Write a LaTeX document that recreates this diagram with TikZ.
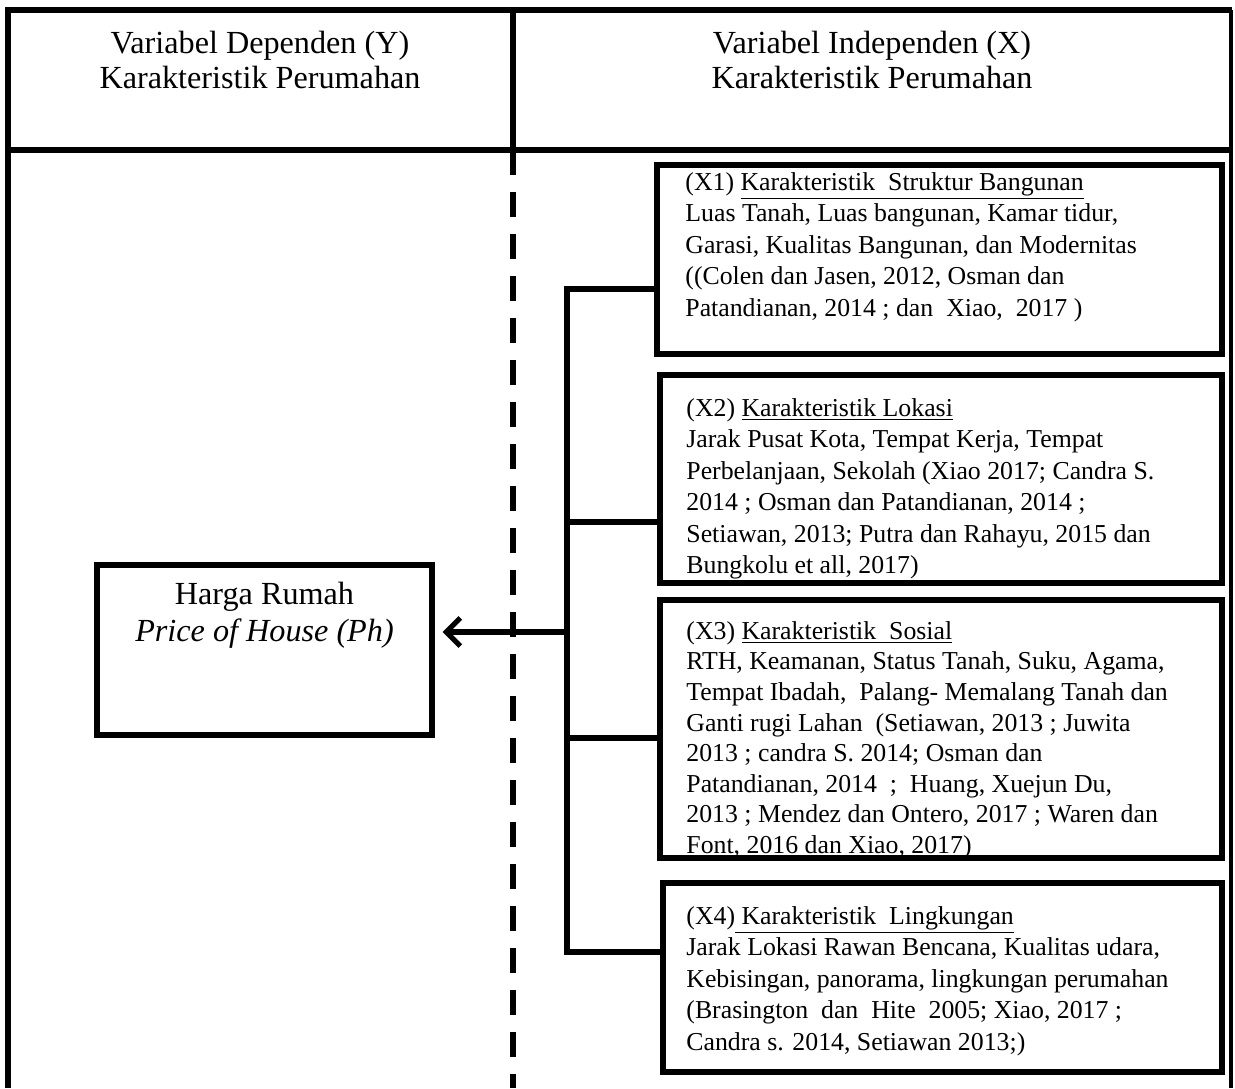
\documentclass[tikz,border=0pt]{standalone}
\usepackage{fontspec}
\setmainfont{Liberation Serif}
\usetikzlibrary{arrows.meta}

\begin{document}
\begin{tikzpicture}[
    x                = 0.5pt,
    y                = -0.5pt,
    garis/.style     = {line width=2.6pt},
    kotak/.style     = {draw, line width=3pt, inner sep=0pt},
    isi/.style       = {anchor=north west, inner sep=0pt, align=left, font=\fontsize{12.9pt}{15.75pt}\selectfont},
    judul/.style     = {anchor=north, inner sep=0pt, align=center, font=\fontsize{16.1pt}{17.5pt}\selectfont},
    cabang/.style    = {line width=3pt},
    panah/.style     = {line width=2.6pt, -{Straight Barb[length=7pt,width=14pt]}}
  ]
\useasboundingbox (0,0) rectangle (1235,1088);
\draw[garis] (8,1088) -- (8,10) -- (1232,10);
\draw[garis, line width=1.8pt] (1231,10) -- (1231,1088);
\draw[garis] (8,150) -- (1232,150);
\draw[garis] (513,10) -- (513,150);
\draw[garis, dash pattern=on 12.5pt off 8.5pt] (513,150) -- (513,1088);
\node[judul] (hy) at (260,31) {Variabel Dependen (Y)\\Karakteristik Perumahan};
\node[judul] (hx) at (872,31) {Variabel Independen (X)\\Karakteristik Perumahan};
\node[kotak, line width=2.6pt, minimum width=167.5pt, minimum height=85pt] (ph) at (264.5,650) {};
\node[judul, font=\fontsize{16.1pt}{18.5pt}\selectfont] (pht) at (264.5,582) {Harga Rumah\\\textit{Price of House (Ph)}};
\node[kotak, minimum width=282.5pt, minimum height=94.5pt] (x1) at (939.5,259.5) {};
\node[kotak, minimum width=281pt, minimum height=104pt] (x2) at (941,479) {};
\node[kotak, minimum width=281pt, minimum height=129pt] (x3) at (941,729) {};
\node[kotak, minimum width=279.5pt, minimum height=94.5pt] (x4) at (942.5,977.5) {};
\node[isi] (t1) at (685,172) {(X1) \underline{Karakteristik\ \ Struktur Bangunan}\\Luas Tanah, Luas bangunan, Kamar tidur,\\Garasi, Kualitas Bangunan, dan Modernitas\\((Colen dan Jasen, 2012, Osman dan\\Patandianan, 2014 ; dan\ \ Xiao,\ \ 2017 )};
\node[isi] (t2) at (686,398) {(X2) \underline{Karakteristik Lokasi}\\Jarak Pusat Kota, Tempat Kerja, Tempat\\Perbelanjaan, Sekolah (Xiao 2017; Candra S.\\2014 ; Osman dan Patandianan, 2014 ;\\Setiawan, 2013; Putra dan Rahayu, 2015 dan\\Bungkolu et all, 2017)};
\begin{scope}
\clip (x3.north west) rectangle (x3.south east);
\node[isi, font=\fontsize{12.9pt}{15.3pt}\selectfont] (t3) at (686,621) {(X3) \underline{Karakteristik\ \ Sosial}\\RTH, Keamanan, Status Tanah, Suku, Agama,\\Tempat Ibadah,\ \ Palang- Memalang Tanah dan\\Ganti rugi Lahan\ \ (Setiawan, 2013 ; Juwita\\2013 ; candra S. 2014; Osman dan\\Patandianan, 2014\ \ ;\ \ Huang, Xuejun Du,\\2013 ; Mendez dan Ontero, 2017 ; Waren dan\\Font, 2016 dan Xiao, 2017)};
\end{scope}
\node[isi] (t4) at (686,906) {(X4)\underline{\ Karakteristik\ \ Lingkungan}\\Jarak Lokasi Rawan Bencana, Kualitas udara,\\Kebisingan, panorama, lingkungan perumahan\\(Brasington\ \ dan\ \ Hite\ \ 2005; Xiao, 2017 ;\\Candra s. 2014, Setiawan 2013;)};
\coordinate (c1) at (567,289);
\coordinate (c2) at (567,522);
\coordinate (c3) at (567,738);
\coordinate (c4) at (567,952);
\coordinate (cp) at (567,632);
\draw[cabang] (c1 -| x1.west) -- (c1) -- (c4) -- (c4 -| x4.west);
\draw[cabang] (c2) -- (c2 -| x2.west);
\draw[cabang] (c3) -- (c3 -| x3.west);
\draw[panah, shorten >=4pt] (cp) -- (cp -| ph.east);
\end{tikzpicture}
\end{document}
